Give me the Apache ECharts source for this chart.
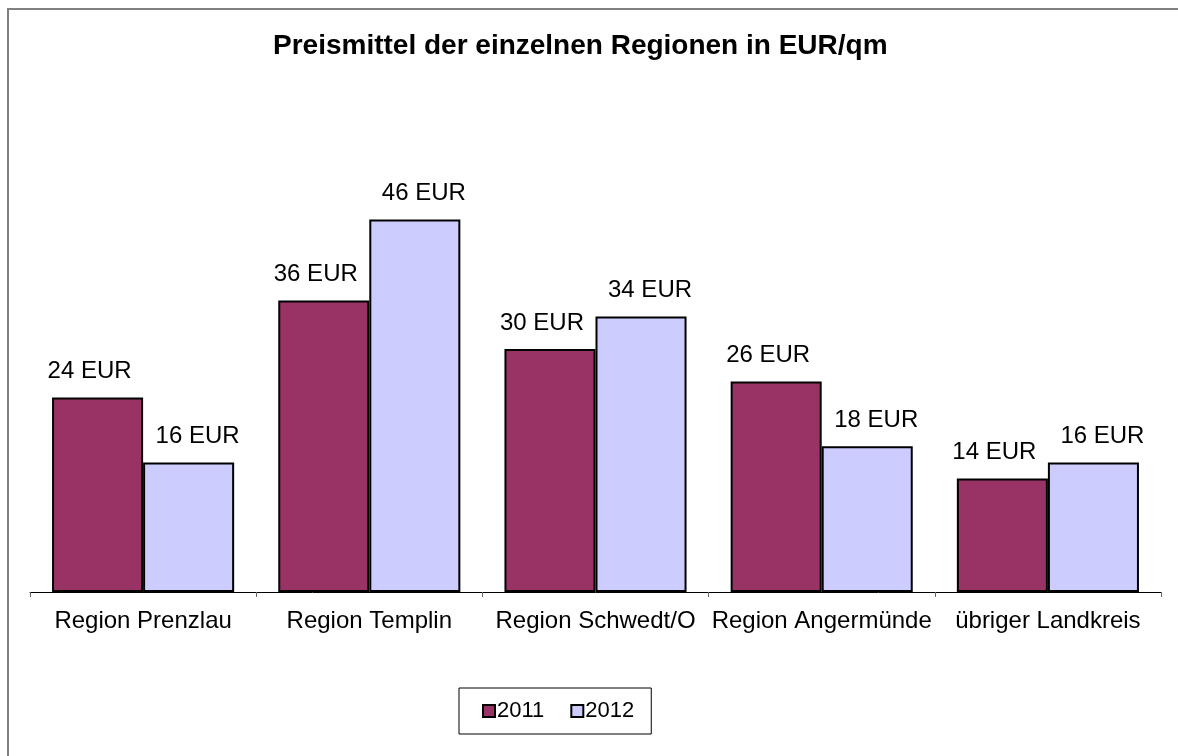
<!DOCTYPE html>
<html>
<head>
<meta charset="utf-8">
<script src="https://cdn.jsdelivr.net/npm/echarts@6/dist/echarts.min.js"></script>
<style>
  html, body { margin: 0; padding: 0; background: #fff; }
  #chart { width: 1178px; height: 756px; }
</style>
</head>
<body>
<div id="chart"></div>
<script>
const categories = ['Region Prenzlau', 'Region Templin', 'Region Schwedt/O', 'Region Angermünde', 'übriger Landkreis']
const values2011 = [24, 36, 30, 26, 14]
const values2012 = [16, 46, 34, 18, 16]
const seriesNames = ['2011', '2012']

const font = 'Liberation Sans, Arial, sans-serif'

const labelStyle = (dx) => ({
  show: true,
  position: 'top',
  distance: 14,
  offset: [dx, 0],
  color: '#000',
  fontFamily: font,
  fontSize: 24,
  formatter: p => p.value + ' EUR'
})

const chart = echarts.init(document.getElementById('chart'))
chart.setOption({
  animation: false,
  backgroundColor: '#fff',
  title: {
    text: 'Preismittel der einzelnen Regionen in EUR/qm',
    left: 273,
    top: 32,
    padding: 0,
    textStyle: { fontFamily: font, fontSize: 28, fontWeight: 'bold', color: '#000' }
  },
  graphic: [{
    type: 'rect',
    shape: { x: 8, y: 9, width: 1300, height: 900 },
    style: { fill: 'none', stroke: '#808080', lineWidth: 2 },
    silent: true
  }],
  legend: {
    data: seriesNames,
    left: 459,
    top: 688,
    padding: [12, 17, 12, 23],
    itemGap: 26,
    itemWidth: 12,
    itemHeight: 12,
    borderColor: '#000',
    borderWidth: 1,
    icon: 'rect',
    textStyle: { fontFamily: font, fontSize: 22, color: '#000', padding: [0, 0, 0, -3] }
  },
  grid: { left: 30, right: 17, top: 187, bottom: 164 },
  xAxis: {
    type: 'category',
    data: categories,
    axisLine: { lineStyle: { color: '#000', width: 1 } },
    axisTick: { show: true, length: 5, lineStyle: { color: '#666' } },
    axisLabel: { color: '#000', fontFamily: font, fontSize: 24, margin: 17, interval: 0 }
  },
  yAxis: {
    type: 'value',
    min: 0,
    max: 50,
    show: false,
    splitLine: { show: false }
  },
  series: [{
    name: seriesNames[0],
    type: 'bar',
    data: values2011,
    barGap: '0%',
    barCategoryGap: '19.5%',
    itemStyle: { color: '#993366', borderColor: '#000', borderWidth: 2 },
    label: labelStyle(-8)
  }, {
    name: seriesNames[1],
    type: 'bar',
    data: values2012,
    barGap: '0%',
    barCategoryGap: '19.5%',
    itemStyle: { color: '#CCCCFF', borderColor: '#000', borderWidth: 2 },
    label: labelStyle(9)
  }]
})
</script>
</body>
</html>
